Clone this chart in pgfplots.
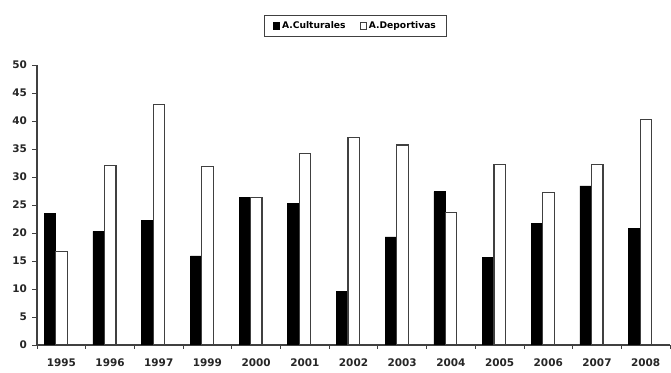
\documentclass[border=0pt]{standalone}
\usepackage{fontspec}
\setmainfont{DejaVu Sans}
\usepackage{pgfplots}
\pgfplotsset{compat=1.18}

\definecolor{axisgray}{HTML}{404040}

\begin{document}
\begin{tikzpicture}
\useasboundingbox (0bp,0bp) rectangle (671bp,373bp);
\begin{axis}[
    at={(37bp,28bp)}, anchor=south west,
    scale only axis, width=633bp, height=280bp,
    xmin=-0.5, xmax=12.5, ymin=0, ymax=50,
    axis x line*=bottom, axis y line*=left,
    axis line style={axisgray, line width=1.2pt, -},
    ytick={0,5,...,50},
    xtick={0,...,12},
    xticklabels={1995,1996,1997,1999,2000,2001,2002,2003,2004,2005,2006,2007,2008},
    minor xtick={-0.5,0.5,...,12.5},
    tick align=outside,
    major tick length=4.5bp,
    minor tick length=3.5bp,
    major x tick style={draw=none},
    minor x tick style={draw=axisgray, line width=0.8pt},
    ytick style={axisgray, line width=0.8pt},
    /pgf/number format/assume math mode=true,
    tick label style={font=\fontsize{10.5}{11}\selectfont\bfseries, text=black!85},
    yticklabel style={xshift=-2bp},
    xticklabel style={yshift=-6bp},
    ybar, bar width=11.5bp,
    legend columns=2,
    legend style={at={(0.503,1.14)}, anchor=center,
        draw=axisgray, line width=0.8pt,
        font=\fontsize{9.2}{10}\selectfont\bfseries,
        inner xsep=8bp, inner ysep=4.5bp,
        /tikz/every even column/.append style={column sep=12bp}},
    legend image code/.code={\draw[#1, line width=0.6pt] (0bp,-3.3bp) rectangle (6.6bp,3.3bp);},
]
\addplot[bar shift=-11.3bp, fill=black, draw=black, line width=0.6pt] coordinates {
    (0,23.5) (1,20.3) (2,22.3) (3,15.9) (4,26.3) (5,25.3) (6,9.6)
    (7,19.3) (8,27.4) (9,15.6) (10,21.7) (11,28.4) (12,20.8)};
\addlegendentry{A.Culturales}
\addplot[bar shift=0.2bp, fill=white, draw=axisgray, line width=1.2pt] coordinates {
    (0,16.7) (1,32.1) (2,42.9) (3,31.9) (4,26.4) (5,34.2) (6,37.0)
    (7,35.7) (8,23.7) (9,32.3) (10,27.2) (11,32.3) (12,40.3)};
\addlegendentry{A.Deportivas}
\end{axis}
\end{tikzpicture}
\end{document}
